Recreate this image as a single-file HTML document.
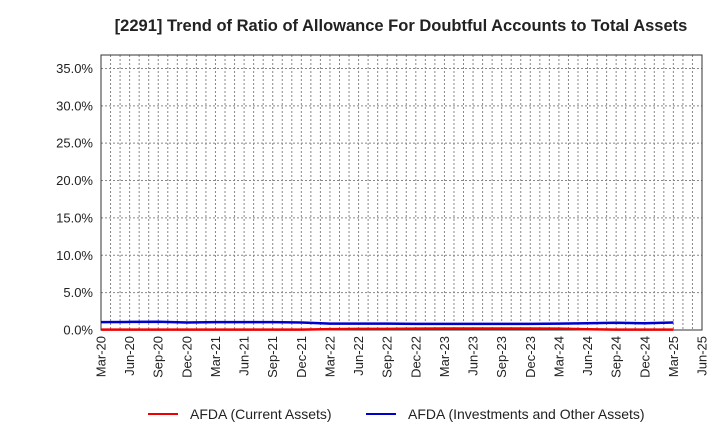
<!DOCTYPE html>
<html><head><meta charset="utf-8"><style>body{margin:0;background:#fff;font-family:"Liberation Sans",Arial,sans-serif}</style></head>
<body>
<svg id="c" width="720" height="440" xmlns="http://www.w3.org/2000/svg">
<text x="401" y="31" text-anchor="middle" font-size="16.5" font-weight="bold" fill="#222">[2291]  Trend of Ratio of Allowance For Doubtful Accounts to Total Assets</text>
<g id="grid"></g><g id="axes"></g><g id="series"></g>
<g>
<line x1="148" y1="414" x2="178" y2="414" stroke="#e00" stroke-width="2"/>
<text x="190" y="419" font-size="14" fill="#222">AFDA (Current Assets)</text>
<line x1="366" y1="414" x2="396" y2="414" stroke="#00c" stroke-width="2"/>
<text x="408" y="419" font-size="14" fill="#222">AFDA (Investments and Other Assets)</text>
</g>
</svg>
<script>
const categories=["Mar-20","Jun-20","Sep-20","Dec-20","Mar-21","Jun-21","Sep-21","Dec-21","Mar-22","Jun-22","Sep-22","Dec-22","Mar-23","Jun-23","Sep-23","Dec-23","Mar-24","Jun-24","Sep-24","Dec-24","Mar-25","Jun-25"];
const currentAssets=[0.05,0.05,0.05,0.05,0.05,0.05,0.05,0.05,0.12,0.15,0.15,0.18,0.2,0.2,0.2,0.2,0.18,0.1,0.05,0.05,0.05];
const investAssets=[1.05,1.08,1.1,1.0,1.05,1.05,1.05,1.0,0.85,0.85,0.85,0.82,0.82,0.82,0.82,0.82,0.85,0.9,0.97,0.9,1.0];
const yTicks=[0,5,10,15,20,25,30,35];
const X0=101,X1=702,Y0=330,Y1=55,YMAX=36.8;
const NS="http://www.w3.org/2000/svg";
const xs=i=>X0+(X1-X0)*i/(categories.length-1);
const ys=v=>Y0-(Y0-Y1)*v/YMAX;
function mk(t,a,p){const e=document.createElementNS(NS,t);for(const k in a)e.setAttribute(k,a[k]);p.appendChild(e);return e;}
const grid=document.getElementById('grid'),axes=document.getElementById('axes'),ser=document.getElementById('series');
for(let m=0;m<=(categories.length-1)*3;m++){const x=X0+(X1-X0)*m/((categories.length-1)*3);
const l=mk('line',{x1:x,x2:x,y1:Y1,y2:Y0,stroke:'#888','stroke-dasharray':'2,2','stroke-width':1},grid);

}
yTicks.forEach(v=>{const y=ys(v);
const l=mk('line',{x1:X0,x2:X1,y1:y,y2:y,stroke:'#888','stroke-dasharray':'2,2','stroke-width':1},grid);


const t=mk('text',{x:X0-8,y:y+4.5,'text-anchor':'end','font-size':13,fill:'#222'},axes);t.textContent=v.toFixed(1)+'%';

});
const r=mk('rect',{x:X0,y:Y1,width:X1-X0,height:Y0-Y1,fill:'none',stroke:'#333','stroke-width':1},axes);


categories.forEach((c,i)=>{const x=xs(i);
const t=mk('text',{x:x+4.5,y:Y0+6,'text-anchor':'end','font-size':13,fill:'#222',transform:`rotate(-90 ${x+4.5} ${Y0+6})`},axes);t.textContent=c;

});
function line(d,col,name){const p=mk('polyline',{points:d.map((v,i)=>xs(i)+','+ys(v)).join(' '),fill:'none',stroke:col,'stroke-width':2.5},ser);

}
line(currentAssets,'#e00','line-current-assets');
line(investAssets,'#00c','line-investments-other-assets');
</script>
</body></html>
